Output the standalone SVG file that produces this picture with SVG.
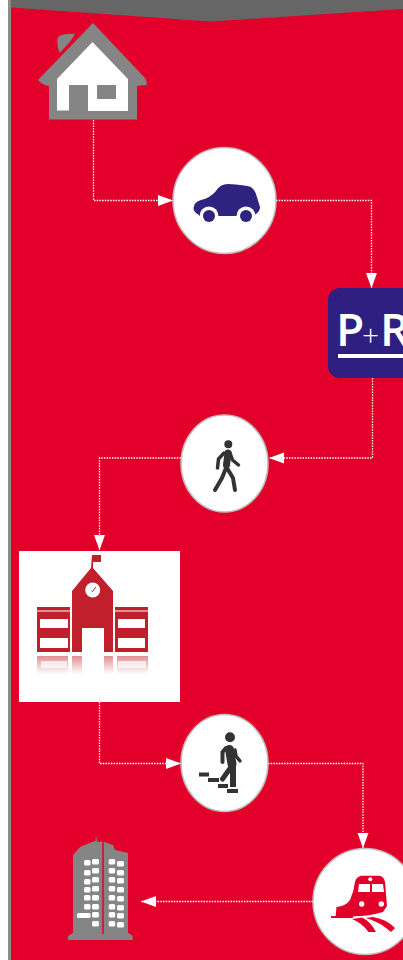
<svg xmlns="http://www.w3.org/2000/svg" width="403" height="960" viewBox="0 0 403 960">
<defs>
<marker id="ah" markerUnits="userSpaceOnUse" markerWidth="16" markerHeight="12" refX="15" refY="6" orient="auto"><path d="M0 0.500L15 6L0 11.500Z" fill="#fff"/></marker>
<linearGradient id="fade" x1="0" y1="0" x2="0" y2="1"><stop offset="0" stop-color="#c21f2c" stop-opacity=".5"/><stop offset="1" stop-color="#c21f2c" stop-opacity="0"/></linearGradient>
</defs>
<style>
.c{fill:none;stroke:#fff;stroke-width:1.3;stroke-dasharray:1.5 1.2;marker-end:url(#ah)}
.o{fill:#fff;stroke:#bdbdbd;stroke-width:1.5}
.g{fill:#858585}
.d{fill:#333}
.s{fill:none;stroke:#333;stroke-linecap:round;stroke-linejoin:round}
.w{fill:#fff}
.r{fill:#c21f2c}
.t{fill:#e2002b}
.b{fill:#2e2480}
.pr{font-family:'Open Sans','Liberation Sans',sans-serif;fill:#fff}
</style>
<rect width="403" height="960" fill="#e2002b"/>
<rect width="8" height="960" fill="#fff"/>
<rect x="8" width="3" height="960" fill="#8c8c8c"/>
<path d="M11 0H403V9L211 21.500L11 7.500Z" fill="#666"/>
<g id="connectors">
<path class="c" d="M93.500 120V200.500H173"/>
<path class="c" d="M276 200.500H371.500V288"/>
<path class="c" d="M372.500 378V458H269"/>
<path class="c" d="M181 458H99.500V550"/>
<path class="c" d="M99.500 702V763.500H181"/>
<path class="c" d="M268 763.500H363V848"/>
<path class="c" d="M313 901.500H141"/>
</g>
<g id="home">
<path class="g" d="M93 23L145 78Q147 81 147 85Q143 85 137 86V119.500H49V86Q42 85 38 80L93 23Z"/>
<path class="g" d="M58 37Q64 33 75 34Q70 43 59.500 53Q56 43 58 37Z"/>
<path class="w" d="M92.500 42L128 79V111H88V85H69V110.500H57V79Z"/>
<rect class="g" x="97" y="85" width="19" height="14"/>
</g>
<g id="car">
<ellipse class="o" cx="224.500" cy="200.500" rx="51.500" ry="53"/>
<path class="b" d="M199 215Q193.500 212 193.500 208Q194 202 201 200Q210 198 216 191Q220 184 228 184Q245 185 251 187Q254 189 256 194L260 207Q260 211 256 214L253 216H199Z"/>
<circle class="w" cx="209" cy="216" r="9.500"/>
<circle class="w" cx="246" cy="216" r="9.500"/>
<circle class="b" cx="209" cy="216" r="6"/>
<circle class="b" cx="246" cy="216" r="6"/>
</g>
<g id="park-ride">
<rect x="328" y="288" width="90" height="90" rx="12" fill="#2e1f80"/>
<text class="pr" y="346" font-size="46" font-weight="600"><tspan x="336">P</tspan></text>
<text class="pr" y="346" font-size="30" font-weight="300"><tspan x="362">+</tspan></text>
<text class="pr" y="346" font-size="46" font-weight="600"><tspan x="380">R</tspan></text>
<rect class="w" x="338" y="354" width="70" height="4"/>
</g>
<g id="walk">
<ellipse class="o" cx="224.500" cy="463.500" rx="43.500" ry="48.500"/>
<circle class="d" cx="228.300" cy="444.300" r="4"/>
<path class="s" stroke-width="7" d="M228 453L226.500 465"/>
<path class="s" stroke-width="3.500" d="M224 453L218.500 459L217.500 468"/>
<path class="s" stroke-width="3.500" d="M230 453L232.500 460L238.500 465"/>
<path class="s" stroke-width="4" d="M226 468L222 478L215 490"/>
<path class="s" stroke-width="4" d="M227 468L233 478L235 490"/>
</g>
<g id="school">
<rect class="w" x="19" y="551" width="161" height="151"/>
<path class="r" d="M92 555H101V562H93V568L113 591V652H104V628H82V652H72V591L91 568Z"/>
<circle class="w" cx="92.700" cy="590" r="7.500"/>
<path d="M92 592L96 587" stroke="#c21f2c" fill="none"/>
<path class="r" d="M37 607H70V652H37ZM115 607H148V652H115Z"/>
<path class="w" d="M37 610.500H70V611.500H37ZM115 610.500H148V611.500H115ZM40 619H68V628H40ZM40 638H68V648H40ZM118 619H145V628H118ZM118 638H145V648H118Z"/>
<path fill="url(#fade)" d="M37 656H68V674H37ZM72 656H82V674H72ZM104 656H113V674H104ZM117 656H148V674H117Z"/>
<path class="w" d="M41 661H67V668H41ZM118 661H146V668H118Z" opacity=".7"/>
</g>
<g id="stairs">
<ellipse class="o" cx="224.500" cy="763" rx="43.500" ry="48.500"/>
<circle class="d" cx="230" cy="737.300" r="5"/>
<path class="s" stroke-width="9" d="M229.500 749.500L232 764"/>
<path class="s" stroke-width="4" d="M226 748L222.500 752V762"/>
<path class="s" stroke-width="3.500" d="M235 750L236 756L240 761"/>
<path class="d" d="M230 765H236V787H230Z"/>
<path class="s" stroke-width="5" d="M231 767L222.500 779"/>
<path class="d" d="M199 772.500H209V776.500H199ZM208 778H219V782H208ZM218 784H228V788H218ZM227 789H238V793H227Z"/>
</g>
<g id="train">
<ellipse class="o" cx="365" cy="901.500" rx="52" ry="53"/>
<path class="t" d="M361 875.700H379Q384 876 385 882L387 906L383 912Q370 916 352 916.500L335.500 917L336.500 907Q346 906 350 900Q354 891 355 882Q356 877 361 875.700Z"/>
<path class="w" d="M359 884H370V892H358ZM372 884H383L384 892H372Z"/>
<circle class="w" cx="370.300" cy="879.300" r="2"/>
<circle class="w" cx="361.700" cy="904" r="2.700"/>
<circle class="w" cx="381.300" cy="904" r="2.700"/>
<path class="t" d="M331 916H353V918H331ZM362 917.500Q370 921 376 932H368.500Q362 923 352 919ZM373 917Q386 919 395 928L391 932Q380 922 366 918Z"/>
</g>
<g id="office">
<path class="g" d="M96 835L97 841.700L104 841.700L113 845L115 850L128 853V932.700L132.700 936V940H68V936L73 933V855L80 847L93 841.700L95.500 841Z"/>
<path stroke="#e2002b" stroke-width="1.500" d="M103 842V934"/>
<g class="w">
<rect x="84" y="860" width="6.500" height="5.500" rx="1.500"/><rect x="92" y="859" width="7" height="5.500" rx="1.500"/><rect x="108.700" y="859" width="6.500" height="5.500" rx="1.500"/><rect x="117" y="861" width="7" height="5.500" rx="1.500"/>
<rect x="84" y="870" width="6.500" height="5.500" rx="1.500"/><rect x="92" y="868" width="7" height="5.500" rx="1.500"/><rect x="108.700" y="868" width="6.500" height="5.500" rx="1.500"/><rect x="117" y="870" width="7" height="5.500" rx="1.500"/>
<rect x="84" y="879" width="6.500" height="5.500" rx="1.500"/><rect x="92" y="877" width="7" height="5.500" rx="1.500"/><rect x="108.700" y="877" width="6.500" height="5.500" rx="1.500"/><rect x="117" y="878" width="7" height="5.500" rx="1.500"/>
<rect x="84" y="887" width="6.500" height="5.500" rx="1.500"/><rect x="92" y="886" width="7" height="5.500" rx="1.500"/><rect x="108.700" y="886" width="6.500" height="5.500" rx="1.500"/><rect x="117" y="887" width="7" height="5.500" rx="1.500"/>
<rect x="84" y="895" width="6.500" height="5.500" rx="1.500"/><rect x="92" y="895" width="7" height="5.500" rx="1.500"/><rect x="108.700" y="895" width="6.500" height="5.500" rx="1.500"/><rect x="117" y="896" width="7" height="5.500" rx="1.500"/>
<rect x="84" y="904" width="6.500" height="5.500" rx="1.500"/><rect x="92" y="904" width="7" height="5.500" rx="1.500"/><rect x="108.700" y="904" width="6.500" height="5.500" rx="1.500"/><rect x="117" y="905" width="7" height="5.500" rx="1.500"/>
<rect x="77" y="913" width="13.500" height="5" rx="1.500"/><rect x="92" y="912" width="7" height="5.500" rx="1.500"/><rect x="108.700" y="912" width="6.500" height="5.500" rx="1.500"/><rect x="117" y="913" width="7" height="5.500" rx="1.500"/>
<rect x="92" y="921" width="7" height="5.500" rx="1.500"/><rect x="108.700" y="921" width="6.500" height="5.500" rx="1.500"/><rect x="117" y="922" width="7" height="5.500" rx="1.500"/>
</g>
</g>
</svg>
